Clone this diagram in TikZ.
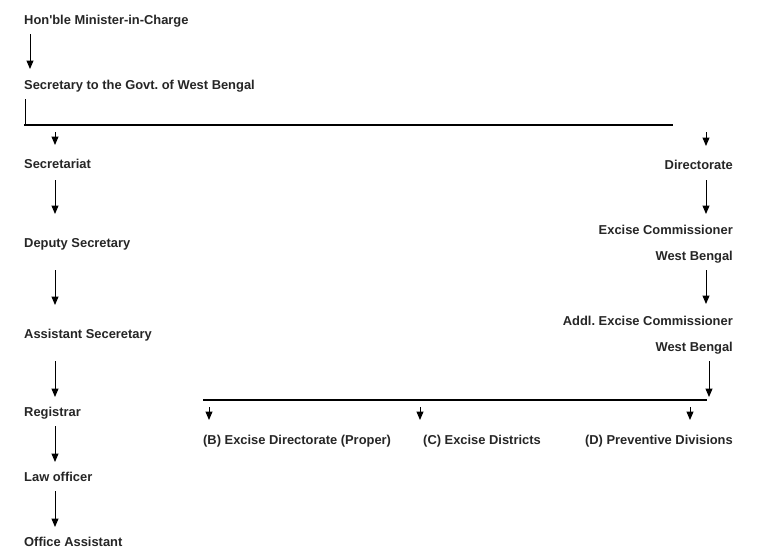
\documentclass[tikz,border=0pt]{standalone}
\usepackage{fontspec}
\setmainfont{Liberation Sans}[Ligatures=TeXOff]
\usetikzlibrary{arrows.meta}
\definecolor{txt}{HTML}{262626}
\frenchspacing
\begin{document}
\begin{tikzpicture}[x=1pt,y=-1pt,
  lbl/.style={anchor=base west, inner sep=0pt, text=txt, font=\bfseries\fontsize{12.9}{15}\selectfont},
  rlbl/.style={lbl, anchor=base east},
  arr/.style={draw=black, line width=1pt, -{Triangle[width=7pt,length=8.5pt]}},
  bar/.style={draw=black, line width=2pt},
  thin/.style={draw=black, line width=1pt}]
\path[use as bounding box, fill=white] (0,0) rectangle (765,557);
% left column
\node[lbl] (hon) at (24,24.5) {Hon'ble Minister-in-Charge};
\node[lbl] (sec) at (24,89.5) {Secretary to the Govt. of West Bengal};
\node[lbl] (secr) at (24,168.5) {Secretariat};
\node[lbl] (dep) at (24,247.5) {Deputy Secretary};
\node[lbl] (asst) at (24,338.5) {Assistant Seceretary};
\node[lbl] (reg) at (24,416.5) {Registrar};
\node[lbl] (law) at (24,481.5) {Law officer};
\node[lbl] (off) at (24,546.5) {Office Assistant};
% right column
\node[rlbl] (dir) at (733,169.5) {Directorate};
\node[rlbl] (ec1) at (733,234.5) {Excise Commissioner};
\node[rlbl] (ec2) at (733,260.5) {West Bengal};
\node[rlbl] (aec1) at (733,325.5) {Addl. Excise Commissioner};
\node[rlbl] (aec2) at (733,351.5) {West Bengal};
% bottom row
\node[lbl] (b) at (203,444.5) {(B) Excise Directorate (Proper)};
\node[lbl] (c) at (423,444.5) {(C) Excise Districts};
\node[rlbl] (d) at (733,444.5) {(D) Preventive Divisions};
% coordinates
\coordinate (a1s) at (30,34);  \coordinate (a1e) at (30,69);
\coordinate (v1s) at (25,99);  \coordinate (v1e) at (25,125);
\coordinate (h1s) at (24,125); \coordinate (h1e) at (673,125);
\coordinate (s1s) at (55,132); \coordinate (s1e) at (55,145);
\coordinate (s2s) at (706,132); \coordinate (s2e) at (706,146);
\coordinate (l1s) at (55,180); \coordinate (l1e) at (55,214);
\coordinate (l2s) at (55,270); \coordinate (l2e) at (55,305);
\coordinate (l3s) at (55,361); \coordinate (l3e) at (55,397);
\coordinate (l4s) at (55,426); \coordinate (l4e) at (55,462);
\coordinate (l5s) at (55,491); \coordinate (l5e) at (55,527);
\coordinate (r1s) at (706,180); \coordinate (r1e) at (706,214);
\coordinate (r2s) at (706,270); \coordinate (r2e) at (706,304);
\coordinate (r3s) at (709,361); \coordinate (r3e) at (709,397);
\coordinate (h2s) at (203,400); \coordinate (h2e) at (707,400);
\coordinate (t1s) at (209,407); \coordinate (t1e) at (209,420);
\coordinate (t2s) at (420,407); \coordinate (t2e) at (420,420);
\coordinate (t3s) at (690,407); \coordinate (t3e) at (690,420);
% connectors
\draw[arr] (a1s) -- (a1e);
\draw[thin] (v1s) -- (v1e);
\draw[bar] (h1s) -- (h1e);
\draw[arr] (s1s) -- (s1e);
\draw[arr] (s2s) -- (s2e);
\foreach \n in {l1,l2,l3,l4,l5,r1,r2,r3,t1,t2,t3}{\draw[arr] (\n s) -- (\n e);}
\draw[bar] (h2s) -- (h2e);
\end{tikzpicture}
\end{document}
